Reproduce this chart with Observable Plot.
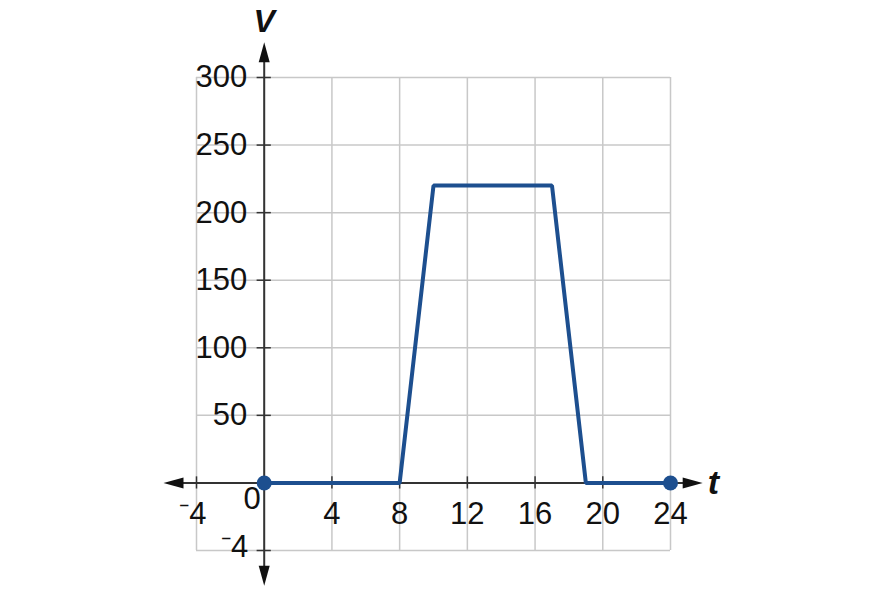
<!DOCTYPE html>
<html>
<head>
<meta charset="utf-8">
<script src="https://cdn.jsdelivr.net/npm/d3@7"></script>
<script src="https://cdn.jsdelivr.net/npm/@observablehq/plot@0.6"></script>
<style>
  html, body { margin: 0; padding: 0; background: #fff; }
  svg { display: block; }
</style>
</head>
<body>
<div id="chart"></div>
<script>
// Data
const tValues = [0, 8, 10, 17, 19, 24];
const vValues = [0, 0, 220, 220, 0, 0];
const endpointT = [0, 24];
const endpointV = [0, 0];

// Grid & ticks
const xGrid = [-4, 0, 4, 8, 12, 16, 20, 24];
const yGrid = [-50, 0, 50, 100, 150, 200, 250, 300];
const xTickLabels = [
  {t: 4, label: "4"}, {t: 8, label: "8"}, {t: 12, label: "12"},
  {t: 16, label: "16"}, {t: 20, label: "20"}, {t: 24, label: "24"}
];
const yTickLabels = [
  {v: 50, label: "50"}, {v: 100, label: "100"}, {v: 150, label: "150"},
  {v: 200, label: "200"}, {v: 250, label: "250"}, {v: 300, label: "300"}
];
const xNegLabel = {t: -4, label: "\u207B4"};
const yNegLabel = {v: -50, label: "\u207B4"};
const xAxisExtent = [-5.95, 25.9];
const yAxisExtent = [-76, 326];

const lineData = tValues.map((t, i) => ({t, v: vValues[i]}));
const endpoints = endpointT.map((t, i) => ({t, v: endpointV[i]}));

const triangle = {
  draw(context, l, r) {
    context.moveTo(0, -l);
    context.lineTo(-5.5, -l + 20);
    context.lineTo(5.5, -l + 20);
    context.closePath();
  }
};

const font = "Liberation Sans, Arial, sans-serif";
const axisColor = "#333";
const fs = 31;

const chart = Plot.plot({
  width: 881,
  height: 589,
  marginLeft: 196,
  marginRight: 211,
  marginTop: 77,
  marginBottom: 39,
  style: {fontFamily: font, background: "white"},
  x: {domain: [-4, 24], axis: null},
  y: {domain: [-50, 300], axis: null},
  marks: [
    // grid
    Plot.ruleX(xGrid, {x: d => d, y1: -50, y2: 300, stroke: "#c8c8c8", strokeWidth: 1.5}),
    Plot.ruleY(yGrid, {y: d => d, x1: -4, x2: 24, stroke: "#c8c8c8", strokeWidth: 1.5}),
    // axes
    Plot.ruleY([0], {x1: xAxisExtent[0] + 0.5, x2: xAxisExtent[1] - 0.5, stroke: axisColor, strokeWidth: 2}),
    Plot.ruleX([0], {y1: yAxisExtent[0] + 5, y2: yAxisExtent[1] - 5, stroke: axisColor, strokeWidth: 2}),
    // tick marks
    Plot.ruleX(xGrid.filter(d => d !== 0), {x: d => d, y1: -4.5, y2: 4.5, stroke: axisColor, strokeWidth: 1.5}),
    Plot.ruleY(yGrid.filter(d => d !== 0), {y: d => d, x1: -0.42, x2: 0.42, stroke: axisColor, strokeWidth: 1.5}),
    // arrowheads
    Plot.vector([
      {x: xAxisExtent[1], y: 0, r: 90},
      {x: xAxisExtent[0], y: 0, r: -90},
      {x: 0, y: yAxisExtent[1], r: 0},
      {x: 0, y: yAxisExtent[0], r: 180}
    ], {x: "x", y: "y", rotate: "r", length: 20, anchor: "end", shape: triangle, fill: "#111", stroke: "none"}),
    // data line
    Plot.line(lineData, {x: "t", y: "v", stroke: "#1d4f8f", strokeWidth: 4, strokeLinejoin: "miter"}),
    Plot.dot(endpoints, {x: "t", y: "v", r: 7.5, fill: "#1d4f8f", stroke: "none"}),
    // tick labels
    Plot.text(xTickLabels, {x: "t", y: 0, text: "label", dy: 31, fontSize: fs, fill: "#111", lineAnchor: "middle"}),
    Plot.text([xNegLabel], {x: "t", y: 0, text: "label", dy: 31, dx: 10, textAnchor: "end", fontSize: fs, fill: "#111", lineAnchor: "middle"}),
    Plot.text(["0"], {x: 0, y: 0, text: d => d, dx: -12, dy: 16, fontSize: fs, fill: "#111", lineAnchor: "middle"}),
    Plot.text(yTickLabels, {x: 0, y: "v", text: "label", dx: -17, textAnchor: "end", fontSize: fs, fill: "#111", lineAnchor: "middle"}),
    Plot.text([yNegLabel], {x: 0, y: "v", text: "label", dx: -16, dy: -3, textAnchor: "end", fontSize: fs, fill: "#111", lineAnchor: "middle"}),
    // axis titles
    Plot.text(["V"], {x: 0, y: yAxisExtent[1], text: d => d, dy: -21, fontSize: 32, fontWeight: "bold", fontStyle: "italic", fill: "#111", lineAnchor: "middle"}),
    Plot.text(["t"], {x: xAxisExtent[1], y: 0, text: d => d, dx: 5, textAnchor: "start", fontSize: 34, fontWeight: "bold", fontStyle: "italic", fill: "#111", lineAnchor: "middle"})
  ]
});
document.getElementById("chart").appendChild(chart);
</script>
</body>
</html>
